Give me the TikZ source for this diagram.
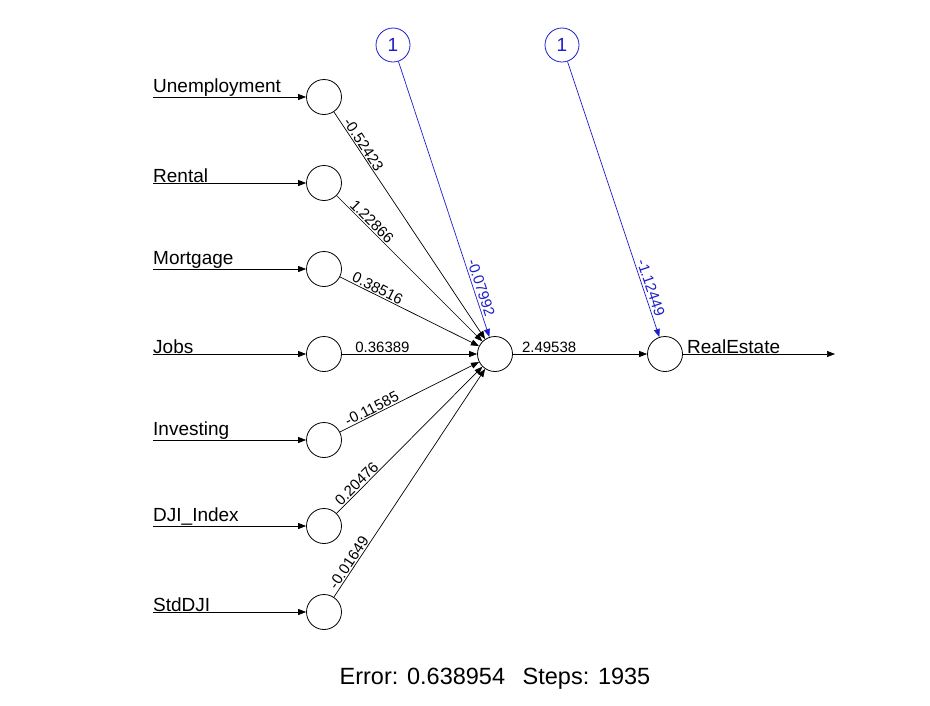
\documentclass[tikz,border=0pt]{standalone}
\usepackage{fontspec}
\setmainfont{Liberation Sans}
\usetikzlibrary{arrows.meta}
\definecolor{biasblue}{RGB}{30,30,205}
\begin{document}
\begin{tikzpicture}[x=1pt,y=-1pt,
  neuron/.style={circle,draw=black,line width=0.8pt,minimum size=35pt,inner sep=0pt},
  biasnode/.style={circle,draw=biasblue,text=biasblue,line width=0.8pt,minimum size=34pt,inner sep=0pt,font=\fontsize{19}{21}\selectfont},
  edge/.style={line width=0.7pt,-{Triangle[length=8pt,width=6pt]}},
  biasedge/.style={edge,draw=biasblue},
  wlab/.style={font=\fontsize{15}{17}\selectfont,sloped,above,inner sep=1pt},
  bwlab/.style={wlab,text=biasblue,inner ysep=2pt},
  inlab/.style={font=\fontsize{19}{21}\selectfont,anchor=south west,inner xsep=0pt,inner ysep=0.5pt},
]
\fill[white] (0,0) rectangle (930,705);

% input neurons
\node[neuron] (i1) at (324,97) {};
\node[neuron] (i2) at (324,183) {};
\node[neuron] (i3) at (324,269) {};
\node[neuron] (i4) at (324,354) {};
\node[neuron] (i5) at (324,440) {};
\node[neuron] (i6) at (324,526) {};
\node[neuron] (i7) at (324,612) {};

% hidden and output
\node[neuron] (h) at (495,354) {};
\node[neuron] (o) at (665,354) {};

% bias nodes
\node[biasnode] (b1) at (393,45) {1};
\node[biasnode] (b2) at (562,45) {1};

% input lines and labels
\coordinate (s1) at (153,97);
\coordinate (s2) at (153,183);
\coordinate (s3) at (153,269);
\coordinate (s4) at (153,354);
\coordinate (s5) at (153,440);
\coordinate (s6) at (153,526);
\coordinate (s7) at (153,612);
\node[inlab] (l1) at (s1) {Unemployment};
\node[inlab] (l2) at (s2) {Rental};
\node[inlab] (l3) at (s3) {Mortgage};
\node[inlab] (l4) at (s4) {Jobs};
\node[inlab] (l5) at (s5) {Investing};
\node[inlab] (l6) at (s6) {DJI\_Index};
\node[inlab] (l7) at (s7) {StdDJI};
\draw[edge] (s1) -- (i1);
\draw[edge] (s2) -- (i2);
\draw[edge] (s3) -- (i3);
\draw[edge] (s4) -- (i4);
\draw[edge] (s5) -- (i5);
\draw[edge] (s6) -- (i6);
\draw[edge] (s7) -- (i7);

% input -> hidden
\draw[edge] (i1) -- node[wlab,pos=0.16] {-0.52423} (h);
\draw[edge] (i2) -- node[wlab,pos=0.21] {1.22866} (h);
\draw[edge] (i3) -- node[wlab,pos=0.25] {0.38516} (h);
\draw[edge] (i4) -- node[wlab,pos=0.30] {0.36389} (h);
\draw[edge] (i5) -- node[wlab,pos=0.25] {-0.11585} (h);
\draw[edge] (i6) -- node[wlab,pos=0.17] {0.20476} (h);
\draw[edge] (i7) -- node[wlab,pos=0.135] {-0.01649} (h);

% bias edges
\draw[biasedge] (b1) -- node[bwlab,pos=0.83] {-0.07992} (h);
\draw[biasedge] (b2) -- node[bwlab,pos=0.83] {-1.12449} (o);

% hidden -> output
\draw[edge] (h) -- node[wlab,pos=0.27] {2.49538} (o);

% output line
\coordinate (e) at (835,354);
\draw[edge] (o) -- (e);
\node[inlab] (ol) at (687,354) {RealEstate};

% caption
\node[font=\fontsize{23.5}{26}\selectfont] (cap) at (495,679) {Error: 0.638954\hspace{0.75em}Steps: 1935};
\end{tikzpicture}
\end{document}
